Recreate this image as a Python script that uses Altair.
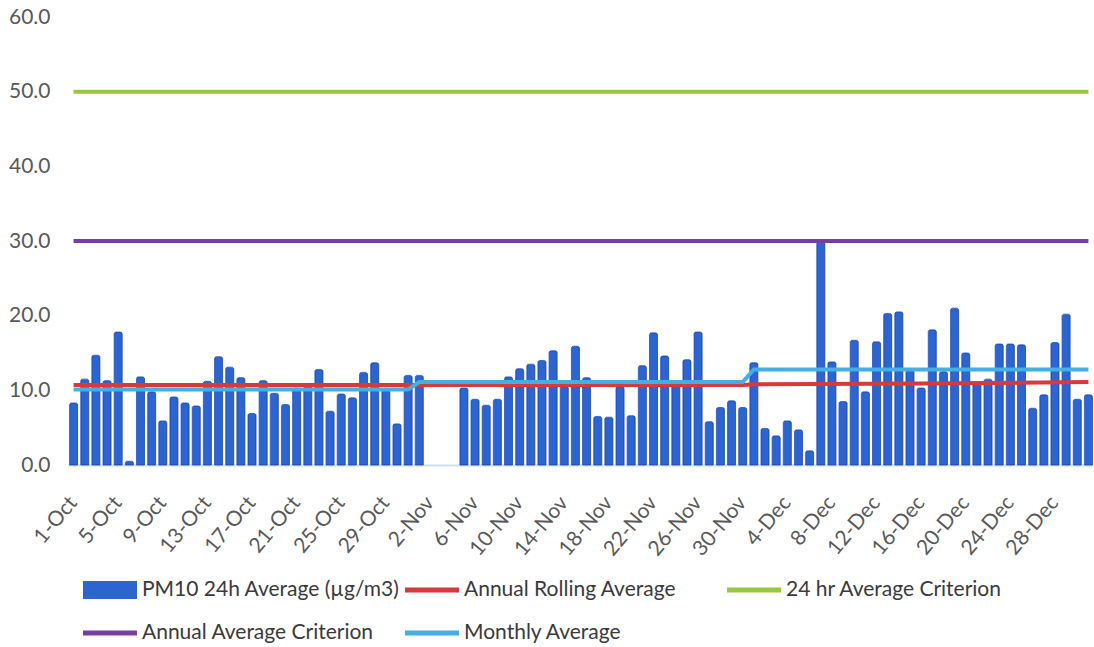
import altair as alt
import pandas as pd

# Daily categories, 1-Oct .. 31-Dec
months = [("Oct", 31), ("Nov", 30), ("Dec", 31)]
days = [f"{d}-{m}" for m, n in months for d in range(1, n + 1)]
tick_labels = days[::4]

# PM10 24h averages (µg/m3); None = no measurement
oct_pm10 = [8.3, 11.5, 14.7, 11.3, 17.8, 0.5, 11.8, 9.8, 5.9, 9.1,
            8.3, 7.9, 11.2, 14.5, 13.1, 11.7, 6.9, 11.3, 9.6, 8.1,
            10.3, 10.5, 12.8, 7.2, 9.5, 9.0, 12.4, 13.7, 10.0, 5.5, 12.0]
nov_pm10 = [12.0, None, None, None, 10.3, 8.8, 8.0, 8.8, 11.8, 12.9,
            13.5, 14.0, 15.3, 10.5, 15.9, 11.7, 6.5, 6.4, 10.5, 6.6,
            13.3, 17.7, 14.6, 11.0, 14.1, 17.8, 5.8, 7.7, 8.6, 7.7]
dec_pm10 = [13.7, 4.9, 3.9, 5.9, 4.7, 1.9, 29.9, 13.8, 8.5, 16.7,
            9.8, 16.5, 20.3, 20.5, 12.7, 10.3, 18.1, 12.5, 21.0, 15.0,
            11.0, 11.5, 16.2, 16.2, 16.1, 7.6, 9.4, 16.4, 20.2, 8.8, 9.4]
pm10 = oct_pm10 + nov_pm10 + dec_pm10

# Reference lines (anchor points joined by straight segments)
rolling_days = ["1-Oct", "30-Nov", "1-Dec", "16-Dec", "31-Dec"]
rolling_vals = [10.7, 10.7, 10.8, 10.9, 11.1]
monthly_days = ["1-Oct", "31-Oct", "1-Nov", "30-Nov", "1-Dec", "31-Dec"]
monthly_vals = [10.1, 10.1, 11.1, 11.1, 12.8, 12.8]
criterion_days = ["1-Oct", "31-Dec"]
crit_24h = [50.0, 50.0]
crit_annual = [30.0, 30.0]

series = ["PM10 24h Average (µg/m3)", "Annual Rolling Average",
          "24 hr Average Criterion", "Annual Average Criterion", "Monthly Average"]
colors = ["#2C65D1", "#D63A3A", "#96C93D", "#7440A0", "#45AEE5"]
bar_path = "M-1,-0.33H1V0.33H-1Z"
line_path = "M-1,-0.09H1V0.09H-1Z"
shapes = [bar_path, line_path, line_path, line_path, line_path]

FONT = "Lato"

bars_df = pd.DataFrame({"day": days, "pm10": pm10})
rolling_df = pd.DataFrame({"day": rolling_days, "v": rolling_vals})
monthly_df = pd.DataFrame({"day": monthly_days, "v": monthly_vals})
c24_df = pd.DataFrame({"day": criterion_days, "v": crit_24h})
cann_df = pd.DataFrame({"day": criterion_days, "v": crit_annual})
legend_df = pd.DataFrame({"series": series, "day": ["1-Oct"] * 5, "v": [0.0] * 5})

x_scale = alt.Scale(domain=days, paddingInner=0.28, paddingOuter=0.14)
y_scale = alt.Scale(domain=[0, 60], nice=False)

x_axis = alt.Axis(values=tick_labels, labelAngle=-50, labelAlign="right",
                  labelBaseline="middle", labelPadding=34, ticks=False,
                  domain=True, domainColor="#CFE0EE", domainWidth=2,
                  labelFontSize=21, labelColor="#595959", labelFont=FONT,
                  labelOverlap=False, labelBound=False, title=None)
y_axis = alt.Axis(values=[0, 10, 20, 30, 40, 50, 60], format=".1f",
                  grid=False, domain=False, ticks=False, labelPadding=18,
                  labelFontSize=21, labelColor="#595959", labelFont=FONT,
                  title=None)

X = alt.X("day:N", scale=x_scale, axis=x_axis, sort=days)

bars = alt.Chart(bars_df).mark_bar(
    color=colors[0], stroke="#1E4DB0", strokeWidth=0.8,
    cornerRadiusTopLeft=2, cornerRadiusTopRight=2,
).encode(
    x=X,
    y=alt.Y("pm10:Q", scale=y_scale, axis=y_axis),
)


def ref_line(df, color):
    return alt.Chart(df).mark_line(color=color, strokeWidth=4).encode(
        x=X,
        y=alt.Y("v:Q", scale=y_scale, axis=y_axis),
    )


rolling = ref_line(rolling_df, colors[1])
c24 = ref_line(c24_df, colors[2])
cann = ref_line(cann_df, colors[3])
monthly = ref_line(monthly_df, colors[4])

legend_props = dict(
    orient="none", legendX=15, legendY=546, direction="horizontal",
    columns=3, gridAlign="all",
    symbolSize=2916, symbolStrokeWidth=0, symbolOpacity=1,
    labelFontSize=21, labelFont=FONT, labelColor="#3A3A3A", labelOffset=5,
    labelLimit=0, columnPadding=5, rowPadding=6, title=None,
)
legend_layer = alt.Chart(legend_df).mark_point(filled=True, opacity=0).encode(
    x=X,
    y=alt.Y("v:Q", scale=y_scale, axis=y_axis),
    color=alt.Color("series:N", scale=alt.Scale(domain=series, range=colors),
                    legend=alt.Legend(**legend_props)),
    shape=alt.Shape("series:N", scale=alt.Scale(domain=series, range=shapes),
                    legend=alt.Legend(**legend_props)),
)

chart = alt.layer(bars, rolling, c24, cann, monthly, legend_layer).properties(
    width=1026, height=448,
    autosize=alt.AutoSizeParams(type="none"),
    padding={"left": 68, "top": 17, "right": 0, "bottom": 181},
    background="white",
).configure_view(stroke=None)

chart.save("out.html", embed_options={"renderer": "svg", "actions": False})
